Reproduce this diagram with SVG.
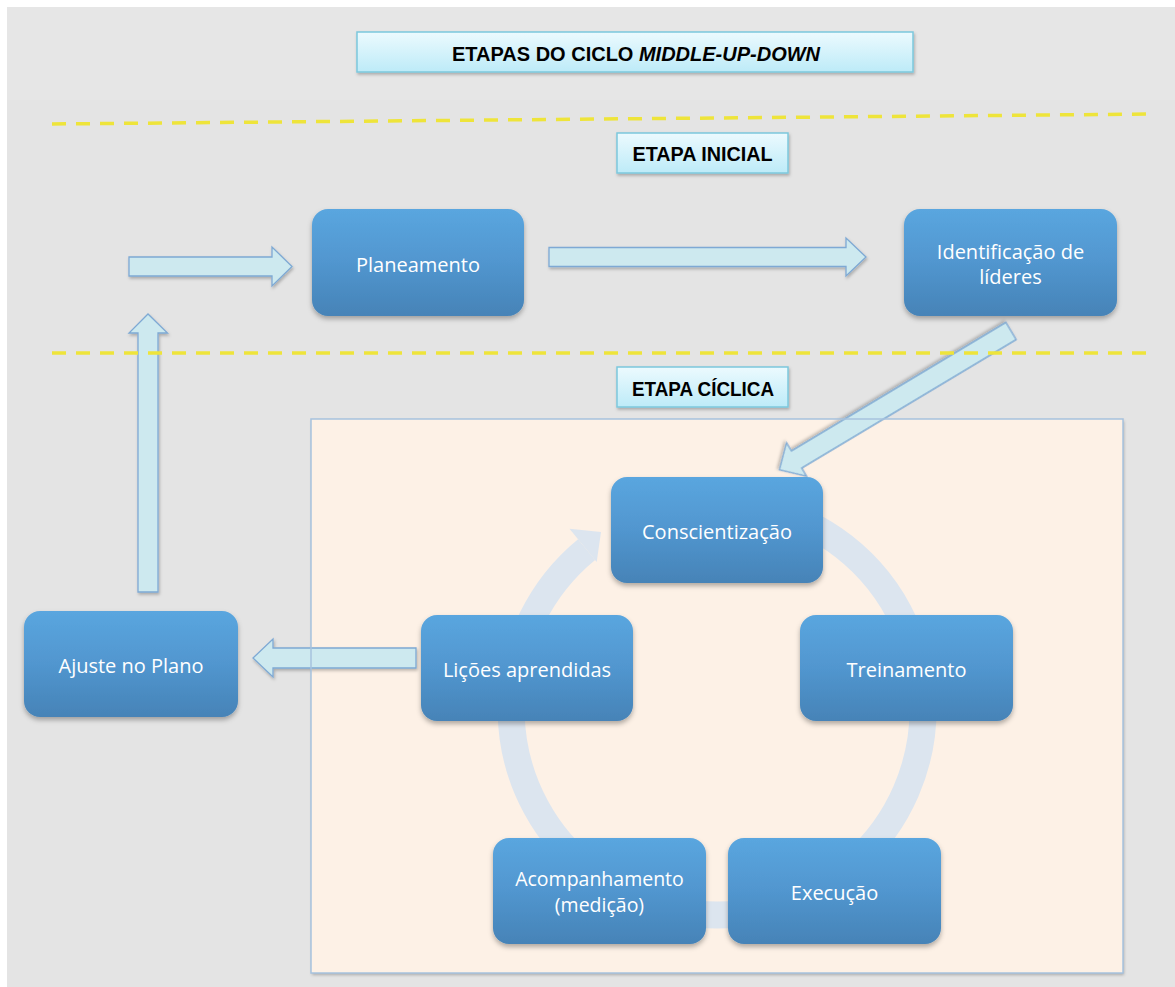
<svg xmlns="http://www.w3.org/2000/svg" width="1175" height="987" viewBox="0 0 1175 987">
<defs>
<linearGradient id="gNode" x1="0" y1="0" x2="0" y2="1">
<stop offset="0" stop-color="#5aa6df"/>
<stop offset="0.5" stop-color="#5196cf"/>
<stop offset="1" stop-color="#4683b7"/>
</linearGradient>
<linearGradient id="gLabel" x1="0" y1="0" x2="0" y2="1">
<stop offset="0" stop-color="#ecfafe"/>
<stop offset="1" stop-color="#bdebf8"/>
</linearGradient>
<filter id="sh" x="-10%" y="-10%" width="120%" height="130%">
<feDropShadow dx="0" dy="3" stdDeviation="2.5" flood-color="#000" flood-opacity="0.3"/>
</filter>
<filter id="shs" x="-10%" y="-10%" width="120%" height="130%">
<feDropShadow dx="1" dy="2" stdDeviation="1.5" flood-color="#000" flood-opacity="0.25"/>
</filter>
<style>
.node{fill:url(#gNode);filter:url(#sh)}
.nt{font-family:"Open Sans","Noto Sans",sans-serif;font-size:20px;fill:#ffffff;text-anchor:middle}
.lbl{fill:url(#gLabel);stroke:#7cc8dd;stroke-width:1.5;filter:url(#shs)}
.lt{font-family:"Liberation Sans",Arial,sans-serif;font-weight:bold;font-size:20px;fill:#000;text-anchor:middle}
.arr{fill:#cde9ef;stroke:#7ea9d4;stroke-width:1.3;filter:url(#shs)}
.dash{stroke:#eee43a;stroke-width:3.5;stroke-dasharray:14 10;fill:none}
</style>
</defs>

<rect x="7" y="7" width="1168" height="980" fill="#e4e4e4"/>
<rect x="7" y="7" width="1168" height="93" fill="#e6e6e6"/>

<g id="cyclic-area">
<rect x="311" y="419" width="812" height="554" fill="#fdf1e6" filter="url(#shs)"/>
</g>

<g id="connectors">
<path d="M752.8,506.1 A206,206 0 1 1 586.6,549.6" fill="none" stroke="#dce5ef" stroke-width="27"/>
<path d="M569.5,528.7 L601,532 L596.7,561.9 Z" fill="#dce5ef"/>
<path class="arr" d="M129,257 H272 V247 L292,266.5 L272,286 V276 H129 Z"/>
<path class="arr" d="M549,247.5 H846 V238 L866,257 L846,276 V266.5 H549 Z"/>
<path class="arr" transform="translate(1011,331) rotate(149.07)" d="M0,-10 H250 V-19.5 L270,0 L250,19.5 V10 H0 Z"/>
<path class="arr" d="M138,592 V333 H129 L148,314 L167.5,333 H158 V592 Z"/>
<path class="arr" d="M416,648 H273 V639 L253,658 L273,677 V668 H416 Z"/>
</g>

<rect x="311" y="419" width="812" height="554" fill="none" stroke="#a6c2de" stroke-width="1.5"/>

<g id="dividers">
<line class="dash" x1="52" y1="124" x2="1155" y2="114"/>
<line class="dash" x1="52" y1="353" x2="1152" y2="353"/>
</g>

<g id="title">
<rect class="lbl" x="357" y="32" width="556" height="40"/>
<text class="lt" x="636" y="61" textLength="368" lengthAdjust="spacingAndGlyphs">ETAPAS DO CICLO <tspan font-style="italic">MIDDLE-UP-DOWN</tspan></text>
</g>
<g id="etapa-inicial">
<rect class="lbl" x="617" y="133" width="171" height="40"/>
<text class="lt" x="702.5" y="161" textLength="140" lengthAdjust="spacingAndGlyphs">ETAPA INICIAL</text>
</g>
<g id="etapa-ciclica">
<rect class="lbl" x="617" y="367" width="171" height="40"/>
<text class="lt" x="703" y="396" textLength="142" lengthAdjust="spacingAndGlyphs">ETAPA CÍCLICA</text>
</g>

<g id="planeamento">
<rect class="node" x="312" y="209" width="212" height="107" rx="16"/>
<text class="nt" x="418" y="271.5">Planeamento</text>
</g>
<g id="identificacao">
<rect class="node" x="904" y="209" width="213" height="107" rx="16"/>
<text class="nt" x="1010.5" y="259">Identificação de</text>
<text class="nt" x="1010.5" y="284">líderes</text>
</g>
<g id="conscientizacao">
<rect class="node" x="611" y="477" width="212" height="106" rx="16"/>
<text class="nt" x="717" y="539">Conscientização</text>
</g>
<g id="treinamento">
<rect class="node" x="800" y="615" width="213" height="106" rx="16"/>
<text class="nt" x="906.5" y="677">Treinamento</text>
</g>
<g id="execucao">
<rect class="node" x="728" y="838" width="213" height="106" rx="16"/>
<text class="nt" x="834.5" y="900">Execução</text>
</g>
<g id="acompanhamento">
<rect class="node" x="493" y="838" width="213" height="106" rx="16"/>
<text class="nt" x="599.5" y="886" style="font-size:19.5px">Acompanhamento</text>
<text class="nt" x="599.5" y="912" style="font-size:19.5px">(medição)</text>
</g>
<g id="licoes">
<rect class="node" x="421" y="615" width="212" height="106" rx="16"/>
<text class="nt" x="527" y="677">Lições aprendidas</text>
</g>
<g id="ajuste">
<rect class="node" x="24" y="611" width="214" height="106" rx="16"/>
<text class="nt" x="131" y="673">Ajuste no Plano</text>
</g>
</svg>
